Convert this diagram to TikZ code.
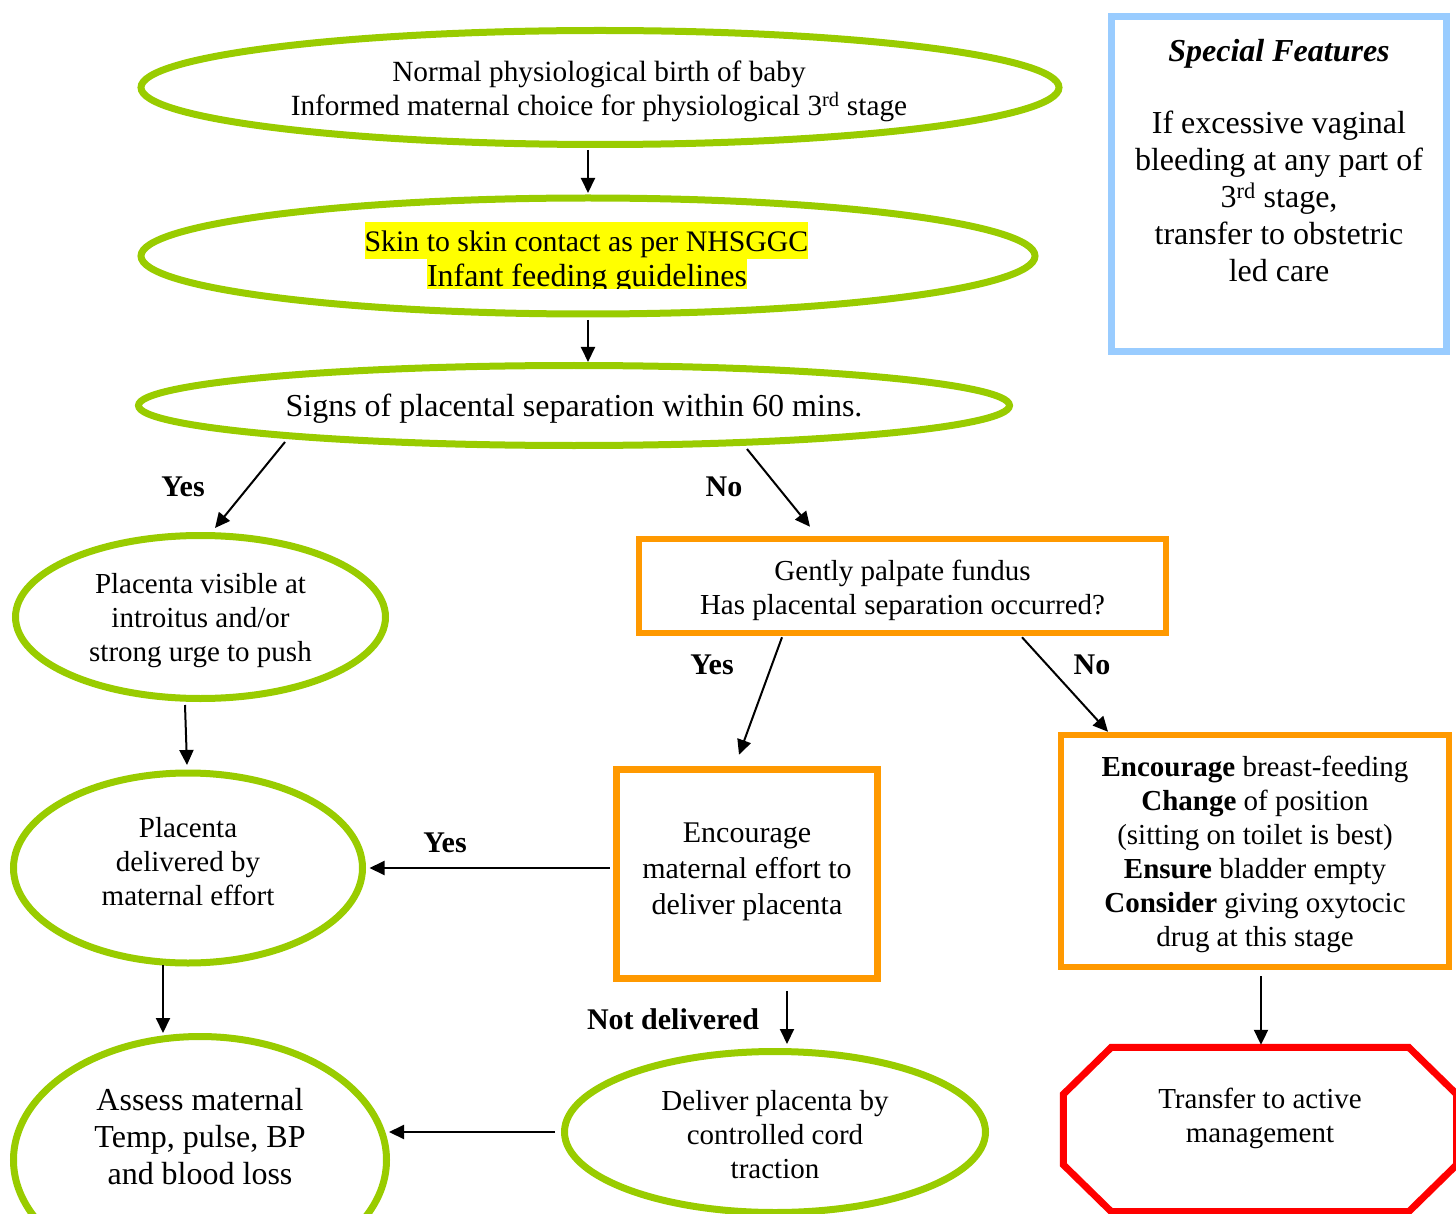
\documentclass[tikz,border=0pt]{standalone}
\usepackage{fontspec}
\setmainfont{Liberation Serif}
\usetikzlibrary{shapes.geometric,arrows.meta,calc}
\definecolor{lgreen}{HTML}{99CC00}
\definecolor{orng}{HTML}{FF9900}
\definecolor{lblue}{HTML}{99CCFF}
\definecolor{hlyellow}{HTML}{FFFF00}
\begin{document}
\begin{tikzpicture}[x=1pt,y=-1pt,
  every node/.style={font=\fontsize{29}{34}\selectfont, align=center},
  gell/.style={ellipse, draw=lgreen, line width=7pt, inner sep=0pt},
  obox/.style={rectangle, draw=orng, line width=6.5pt},
  hl/.style={fill=hlyellow, inner sep=0pt},
  arr/.style={-{Triangle[length=15pt,width=14pt]}, line width=2pt},
  lbl/.style={font=\fontsize{30}{34}\selectfont\bfseries},
  big/.style={font=\fontsize{32}{37}\selectfont}]
\useasboundingbox (0,0) rectangle (1456,1214);

% ---- shapes ----
\node[gell, minimum width=918pt, minimum height=114pt] (E1) at (600,87.5) {};
\node[gell, minimum width=894pt, minimum height=116pt] (E2) at (588,256) {};
\node[gell, minimum width=871pt, minimum height=80pt] (E3) at (574,405.5) {};
\node[draw=lblue, line width=7pt, minimum width=335pt, minimum height=335pt] (SF) at (1279,184) {};
\node[gell, minimum width=370pt, minimum height=163pt] (E4) at (200.5,617) {};
\node[obox, minimum width=527pt, minimum height=94pt] (B1) at (902.5,586) {};
\node[gell, minimum width=349pt, minimum height=190pt] (E5) at (188,868) {};
\node[obox, minimum width=261pt, minimum height=209pt] (B2) at (747,874) {};
\node[obox, minimum width=388pt, minimum height=232pt] (B3) at (1255,851) {};
\node[gell, minimum width=421pt, minimum height=161pt] (E6) at (775,1132) {};
\node[gell, minimum width=373pt, minimum height=247pt] (E7) at (200,1160) {};
\node[minimum width=393pt, minimum height=164pt, inner sep=0pt] (OC) at (1260,1129.5) {};
\draw[red, line width=7pt]
  ($(OC.north west)+(48,0)$) -- ($(OC.north east)+(-48,0)$) -- ($(OC.north east)+(0,47)$)
  -- ($(OC.south east)+(0,-47)$) -- ($(OC.south east)+(-48,0)$) -- ($(OC.south west)+(48,0)$)
  -- ($(OC.south west)+(0,-47)$) -- ($(OC.north west)+(0,47)$) -- cycle;

% ---- texts ----
\node[font=\fontsize{29.3}{34}\selectfont] (E1t) at (599,91.5)
  {Normal physiological birth of baby\\Informed maternal choice for physiological 3\textsuperscript{rd} stage};
\begin{scope}
  \clip (300,200) rectangle (900,288.5);
  \node[hl, anchor=base, font=\fontsize{29.8}{34}\selectfont, text height=30pt, text depth=7pt] (E2a) at (586.5,252)
    {Skin to skin contact as per NHSGGC};
  \node[hl, anchor=base, font=\fontsize{32}{37}\selectfont, text height=28pt, text depth=8pt] (E2b) at (587,287)
    {Infant feeding guidelines};
\end{scope}
\node[big] (E3t) at (574,408.5) {Signs of placental separation within 60 mins.};
\node[big] (SFt) at (1279,160.5)
  {\textbf{\textit{Special Features}}\\[35pt]If excessive vaginal\\bleeding at any part of\\3\textsuperscript{rd} stage,\\transfer to obstetric\\led care};
\node (E4t) at (200.5,621) {Placenta visible at\\introitus and/or\\strong urge to push};
\node (B1t) at (902.5,590) {Gently palpate fundus\\Has placental separation occurred?};
\node (E5t) at (188,862) {Placenta\\delivered by\\maternal effort};
\node[font=\fontsize{30}{36}\selectfont] (B2t) at (747,872) {Encourage\\maternal effort to\\deliver placenta};
\node (B3t) at (1255,854)
  {\textbf{Encourage} breast-feeding\\\textbf{Change} of position\\(sitting on toilet is best)\\\textbf{Ensure} bladder empty\\\textbf{Consider} giving oxytocic\\drug at this stage};
\node (E6t) at (775,1135) {Deliver placenta by\\controlled cord\\traction};
\node[big] (E7t) at (200,1137) {Assess maternal\\Temp, pulse, BP\\and blood loss};
\node (OCt) at (1260,1118) {Transfer to active\\management};

% ---- labels ----
\node[lbl] (L1) at (183,487) {Yes};
\node[lbl] (L2) at (724,487) {No};
\node[lbl] (L3) at (712,665) {Yes};
\node[lbl] (L4) at (1092,665) {No};
\node[lbl] (L5) at (445,843) {Yes};
\node[lbl] (L6) at (673,1019) {Not delivered};

% ---- connectors ----
\draw[arr] ($(E1.center)+(-12,62.5)$) -- ($(E2.center)+(0,-63)$);
\draw[arr] ($(E2.center)+(0,64)$) -- ($(E3.center)+(14,-43.5)$);
\draw[arr] ($(E3.center)+(-289,36.5)$) -- ($(E4.center)+(14.5,-89)$);
\draw[arr] ($(E3.center)+(173,43.5)$) -- ($(B1.north)+(-92.5,-9)$);
\draw[arr] ($(B1.south)+(-120.5,1)$) -- ($(B2.north)+(-8,-11.5)$);
\draw[arr] ($(B1.south)+(119.5,1)$) -- ($(B3.north)+(-147,0)$);
\draw[arr] ($(E4.center)+(-15.5,88)$) -- ($(E5.center)+(-1,-103)$);
\draw[arr] ($(B2.west)+(-3.5,-6)$) -- ($(E5.east)+(3.5,0)$);
\draw[arr] ($(E5.center)+(-25,97)$) -- ($(E7.center)+(-37,-127)$);
\draw[arr] ($(B2.south)+(40,9)$) -- ($(E6.north)+(12,-4)$);
\draw[arr] ($(E6.west)+(-6,0)$) -- ($(E7.center)+(189,-28)$);
\draw[arr] ($(B3.south)+(6,6)$) -- ($(OC.north)+(1,-2.5)$);
\end{tikzpicture}
\end{document}
